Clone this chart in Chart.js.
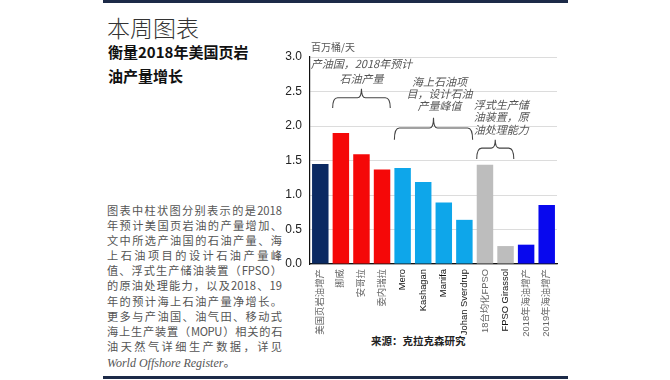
<!DOCTYPE html>
<html><head><meta charset="utf-8">
<script src="https://cdn.jsdelivr.net/npm/chart.js@4.4.1/dist/chart.umd.min.js"></script>
<style>
html,body{margin:0;padding:0;background:#fff;width:670px;height:380px;overflow:hidden;}
#wrap{position:relative;width:670px;height:380px;}
canvas{position:absolute;left:0;top:0;}
.abs{position:absolute;white-space:nowrap;}
.rule{position:absolute;left:103px;width:465px;height:3px;background:#1c2a48;}
#title{left:107px;top:10px;font:300 23px 'Noto Sans CJK SC',sans-serif;color:#333;line-height:34px;}
.sub{left:108px;font:700 15px 'Noto Sans CJK SC',sans-serif;color:#111;line-height:22px;}
#para{position:absolute;left:107px;top:203px;width:175px;font:400 11.2px 'Noto Sans CJK SC',sans-serif;color:#555;}
#para div{height:15.1px;line-height:15.1px;text-align:justify;text-align-last:justify;white-space:nowrap;}
#para div.last{text-align-last:left;font-family:'Liberation Serif','DejaVu Serif',serif;font-style:italic;font-size:12px;}
#src{left:371px;top:334px;font:700 10.5px 'Noto Sans CJK SC',sans-serif;color:#222;line-height:14px;}
</style></head>
<body><div id="wrap">
<div class="rule" style="top:0px"></div>
<div class="rule" style="top:376px"></div>
<div id="title" class="abs">本周图表</div>
<div class="abs sub" style="top:41px">衡量2018年美国页岩</div>
<div class="abs sub" style="top:65px">油产量增长</div>
<div id="para">
<div>图表中柱状图分别表示的是2018</div>
<div>年预计美国页岩油的产量增加、</div>
<div>文中所选产油国的石油产量、海</div>
<div>上石油项目的设计石油产量峰</div>
<div>值、浮式生产储油装置（FPSO）</div>
<div>的原油处理能力，以及2018、19</div>
<div>年的预计海上石油产量净增长。</div>
<div>更多与产油国、油气田、移动式</div>
<div style="letter-spacing:-0.4px">海上生产装置（MOPU）相关的石</div>
<div>油天然气详细生产数据，详见</div>
<div class="last">World Offshore Register<span style="font-style:normal;font-family:'Noto Sans CJK SC'">。</span></div>
</div>
<div id="src" class="abs">来源：克拉克森研究</div>
<canvas id="c" width="670" height="380"></canvas>
</div>
<script>
// ---- data ----
const categories = ["美国页岩油增产","挪威","安哥拉","委内瑞拉","Mero","Kashagan","Manifa","Johan Sverdrup","18台均化FPSO","FPSO Girassol","2018年海油增产","2019年海油增产"];
const values = [1.45, 1.90, 1.59, 1.37, 1.39, 1.19, 0.89, 0.64, 1.44, 0.26, 0.28, 0.855];
const groups = ["shale","country","country","country","project","project","project","project","fpso","fpso","offshore","offshore"];
const yTicks = [0, 0.5, 1.0, 1.5, 2.0, 2.5, 3.0];
const unitLabel = "百万桶/天";
const noteCountry = ["产油国，2018年预计","石油产量"];
const noteProject = ["海上石油项","目，设计石油","产量峰值"];
const noteFpso = ["浮式生产储","油装置，原","油处理能力"];

// ---- styles ----
const groupColors = {shale:"#0b2a62", country:"#f50808", project:"#0ea6ea", fpso:"#bdbdbd", offshore:"#0808ee"};

// annotation layout (category spans, y levels in axis units)
const notes = [
  {lines: noteCountry, from:1, to:3, textDx:0,  textY:[2.90,2.69], brace:{y:2.41, ends:2.26, tip:2.54}},
  {lines: noteProject, from:4, to:7, textDx:6,  textY:[2.64,2.47,2.29], brace:{y:1.97, ends:1.80, tip:2.12}},
  {lines: noteFpso,    from:8, to:9, textDx:6,  textY:[2.31,2.13,1.94], brace:{y:1.68, ends:1.52, tip:1.80}}
];

const annot = {
  id:'annot',
  afterDatasetsDraw(chart){
    const {ctx, scales:{x,y}, chartArea} = chart;
    ctx.save();
    ctx.font = "10px 'Noto Sans CJK SC'";
    ctx.fillStyle = "#555";
    ctx.textAlign = "left"; ctx.textBaseline = "middle";
    ctx.fillText(unitLabel, chartArea.left + 1, chartArea.top - 10);
    const half = (x.getPixelForValue(1) - x.getPixelForValue(0)) * 0.4;
    notes.forEach(n => {
      const x1 = x.getPixelForValue(n.from) - half;
      const x2 = x.getPixelForValue(n.to) + half;
      const xc = (x1 + x2) / 2;
      ctx.font = "italic 11px 'Noto Sans CJK SC'";
      ctx.fillStyle = "#555";
      ctx.textAlign = "center";
      n.lines.forEach((t,i) => ctx.fillText(t, xc + n.textDx, y.getPixelForValue(n.textY[i])));
      const yb = y.getPixelForValue(n.brace.y);
      const ye = y.getPixelForValue(n.brace.ends);
      const yt = y.getPixelForValue(n.brace.tip);
      ctx.strokeStyle = "#444"; ctx.lineWidth = 1.1;
      ctx.beginPath();
      ctx.moveTo(x1, ye);
      ctx.quadraticCurveTo(x1, yb, x1 + 5, yb);
      ctx.lineTo(xc - 4, yb);
      ctx.quadraticCurveTo(xc, yb, xc, yt);
      ctx.quadraticCurveTo(xc, yb, xc + 4, yb);
      ctx.lineTo(x2 - 5, yb);
      ctx.quadraticCurveTo(x2, yb, x2, ye);
      ctx.stroke();
    });
    ctx.restore();
  }
};

new Chart(document.getElementById('c'), {
  type:'bar',
  data:{
    labels: categories,
    datasets:[{
      data: values,
      backgroundColor: groups.map(g => groupColors[g]),
      borderWidth: 0,
      categoryPercentage: 1.0,
      barPercentage: 0.8
    }]
  },
  options:{
    responsive:false,
    animation:false,
    devicePixelRatio:1,
    layout:{padding:{left:258, right:113, top:57, bottom:0}},
    plugins:{legend:{display:false}, tooltip:{enabled:false}},
    scales:{
      x:{
        grid:{display:true, drawOnChartArea:false, drawTicks:false},
        border:{display:true, color:"#111", width:1.2},
        afterFit(s){ s.height = 116; },
        ticks:{
          autoSkip:false, minRotation:90, maxRotation:90, padding:5,
          font:{size:9.4, family:"'Liberation Sans', Arial, 'Noto Sans CJK SC', sans-serif"},
          color:(c)=> /[\u4e00-\u9fff]/.test(categories[c.index]) ? "#666" : "#111"
        }
      },
      y:{
        min:0, max:3,
        afterBuildTicks(s){ s.ticks = yTicks.map(v => ({value:v})); },
        afterFit(s){ s.width = 52; },
        grid:{color:"#dcdcdc", drawTicks:false, lineWidth:1},
        border:{display:true, color:"#111", width:1.2},
        ticks:{
          padding:8, color:"#222",
          font:{size:12, family:"'Liberation Sans', Arial, sans-serif"},
          callback:(v)=> Number(v).toFixed(1)
        }
      }
    }
  },
  plugins:[annot]
});
</script>
</body></html>
